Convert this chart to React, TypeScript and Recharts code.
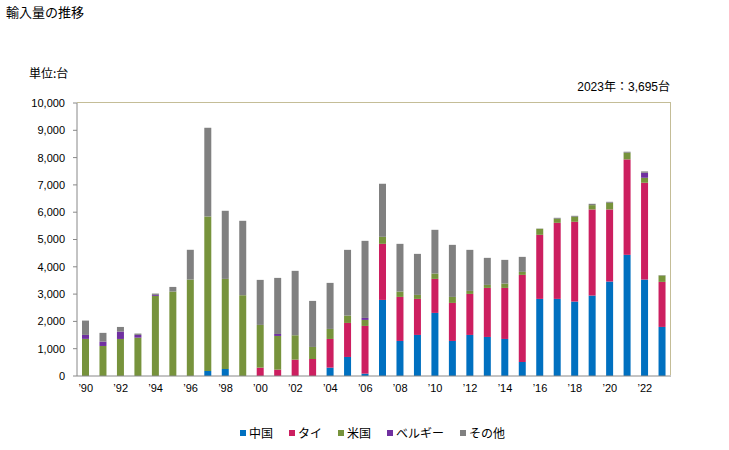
import { Bar, BarChart, XAxis, YAxis } from "recharts";

const years = [
  1990, 1991, 1992, 1993, 1994, 1995, 1996, 1997, 1998, 1999, 2000, 2001,
  2002, 2003, 2004, 2005, 2006, 2007, 2008, 2009, 2010, 2011, 2012, 2013,
  2014, 2015, 2016, 2017, 2018, 2019, 2020, 2021, 2022, 2023,
];

// 中国
const china = [
  0, 0, 0, 0, 0, 0, 0, 183, 257, 0, 0, 0, 0, 0, 306, 697, 86, 2787, 1284,
  1504, 2311, 1284, 1504, 1430, 1357, 513, 2824, 2824, 2726, 2946, 3460, 4438,
  3533, 1797,
];

// タイ
const thai = [
  0, 0, 0, 0, 0, 0, 0, 0, 0, 0, 306, 232, 600, 623, 1051, 1247, 1748, 2054,
  1613, 1320, 1246, 1393, 1503, 1797, 1870, 3191, 2347, 2787, 2922, 3154, 2640,
  3496, 3545, 1650,
];

// 米国
const usa = [
  1360, 1100, 1357, 1405, 2935, 3093, 3533, 5660, 3300, 2958, 1565, 1235, 892,
  441, 367, 269, 220, 257, 196, 147, 196, 220, 110, 110, 159, 110, 220, 147,
  183, 159, 245, 244, 184, 233,
];

// ベルギー
const belgium = [
  145, 160, 270, 100, 35, 0, 0, 0, 0, 0, 0, 73, 0, 0, 0, 0, 73, 0, 0, 0, 0, 0,
  0, 0, 0, 0, 0, 0, 0, 0, 0, 0, 183, 0,
];

// その他
const other = [
  525, 320, 170, 50, 50, 170, 1090, 3250, 2495, 2727, 1650, 2054, 2360, 1687,
  1687, 2408, 2824, 1944, 1748, 1503, 1602, 1907, 1504, 991, 868, 550, 10, 37,
  37, 49, 36, 37, 49, 15,
];

const yTicks = [0, 1000, 2000, 3000, 4000, 5000, 6000, 7000, 8000, 9000, 10000];

const series = [
  { key: "china", name: "中国", color: "#0070C0" },
  { key: "thai", name: "タイ", color: "#CC1F60" },
  { key: "usa", name: "米国", color: "#77933C" },
  { key: "belgium", name: "ベルギー", color: "#7030A0" },
  { key: "other", name: "その他", color: "#808080" },
];

const data = years.map((y, i) => ({
  year: y,
  china: china[i],
  thai: thai[i],
  usa: usa[i],
  belgium: belgium[i],
  other: other[i],
}));

const font = '"Liberation Sans", Arial, "Noto Sans CJK JP", sans-serif';
const jpFont = '"Noto Sans CJK JP", sans-serif';
const borderColor = "#C4BD97";

// plot area box, shared by the chart margins and the frame
const plot = { left: 77, top: 103, right: 671, bottom: 376 };

export default function App() {
  return (
    <div
      style={{
        position: "absolute",
        left: 0,
        top: 0,
        width: 729,
        height: 450,
        background: "#fff",
        fontFamily: font,
      }}
    >
      <div style={{ position: "absolute", left: 6, top: 2, fontSize: 13, fontFamily: jpFont }}>
        輸入量の推移
      </div>
      <div style={{ position: "absolute", left: 29, top: 64, fontSize: 12, fontFamily: jpFont }}>
        単位:台
      </div>
      <div
        style={{
          position: "absolute",
          right: 59,
          top: 77,
          fontSize: 12,
          fontFamily: font,
        }}
      >
        2023年：3,695台
      </div>

      {/* tan frame on top and right of the plot area */}
      <div
        style={{
          position: "absolute",
          left: plot.left,
          top: plot.top - 1,
          width: plot.right - plot.left,
          height: plot.bottom - plot.top,
          boxSizing: "border-box",
          borderTop: `1px solid ${borderColor}`,
          borderRight: `1px solid ${borderColor}`,
        }}
      />

      <BarChart
        width={729}
        height={450}
        data={data}
        margin={{
          top: plot.top,
          right: 729 - plot.right,
          left: plot.left - 60,
          bottom: 450 - plot.bottom - 20,
        }}
        barSize={7}
        style={{ position: "relative" }}
      >
        <XAxis
          dataKey="year"
          interval={1}
          tickLine={false}
          tickSize={4}
          tickMargin={4}
          height={20}
          axisLine={{ stroke: "#888888" }}
          tick={{ fontSize: 11, fill: "#000", fontFamily: font }}
          tickFormatter={(v) => "\u2019" + String(v).slice(2)}
        />
        <YAxis
          domain={[0, 10000]}
          ticks={yTicks}
          width={60}
          tickSize={4}
          tickMargin={8}
          axisLine={{ stroke: "#888888" }}
          tickLine={{ stroke: "#888888" }}
          tick={{ fontSize: 11, fill: "#000", fontFamily: font }}
          tickFormatter={(v) => Number(v).toLocaleString("en-US")}
        />
        {series.map((s) => (
          <Bar
            key={s.key}
            dataKey={s.key}
            name={s.name}
            stackId="a"
            fill={s.color}
            isAnimationActive={false}
          />
        ))}
      </BarChart>

      <div
        style={{
          position: "absolute",
          left: 240,
          top: 424,
          display: "flex",
          gap: 16,
          fontSize: 12,
          fontFamily: jpFont,
        }}
      >
        {series.map((s) => (
          <div key={s.key} style={{ display: "flex", alignItems: "center" }}>
            <span
              style={{
                display: "inline-block",
                width: 6,
                height: 6,
                background: s.color,
                marginRight: 3,
              }}
            />
            {s.name}
          </div>
        ))}
      </div>
    </div>
  );
}
